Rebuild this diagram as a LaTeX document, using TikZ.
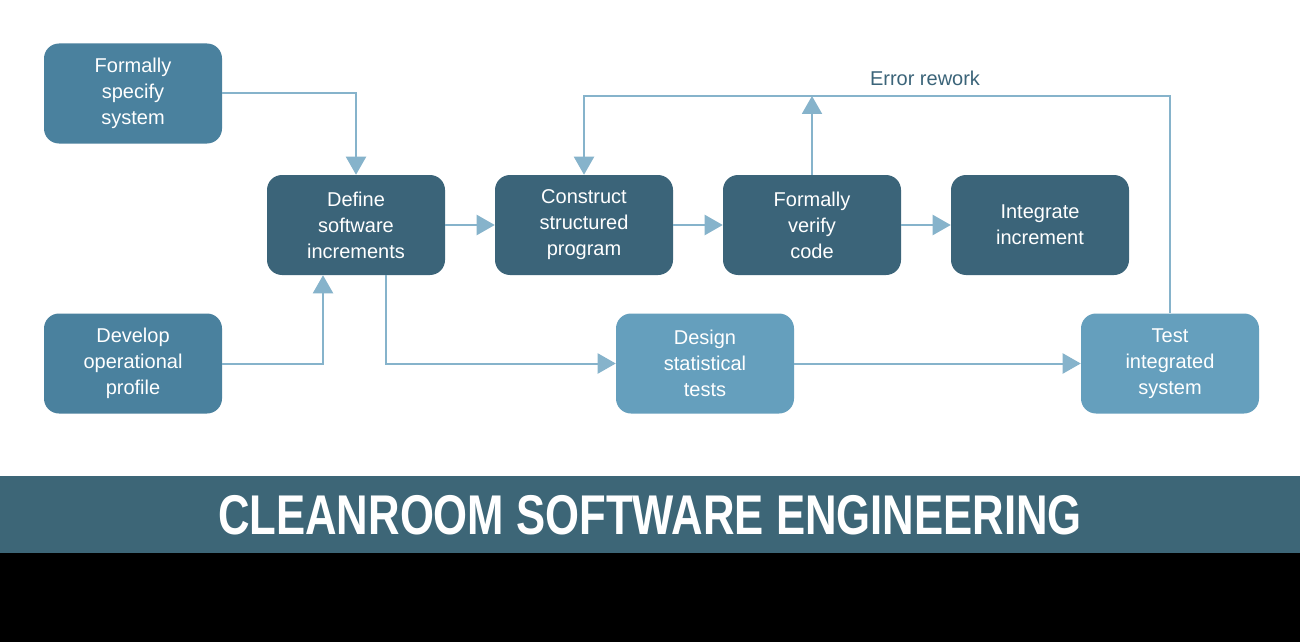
\documentclass[tikz,border=0pt]{standalone}
\usepackage{fontspec}
\setmainfont{Liberation Sans}
\newfontfamily\bannerfont[FakeStretch=0.78]{Liberation Sans}
\usetikzlibrary{arrows.meta,calc}

\definecolor{boxdark}{RGB}{59,100,121}
\definecolor{boxmid}{RGB}{74,129,158}
\definecolor{boxlight}{RGB}{101,159,189}
\definecolor{flowc}{RGB}{134,179,203}
\definecolor{bannerc}{RGB}{61,102,119}

\begin{document}
\begin{tikzpicture}[x=0.75pt,y=0.75pt,yscale=-1,xscale=1,
    stepbox/.style={rounded corners=11.25pt, minimum width=133.5pt, minimum height=75pt,
        inner sep=0pt, align=center, text=white,
        font=\fontsize{15pt}{19.5pt}\selectfont},
    flow/.style={draw=flowc, line width=1.5pt, -{Triangle[length=13.5pt,width=15pt]}}]
    \useasboundingbox (0,0) rectangle (1300,642);
    \fill[white] (0,0) rectangle (1300,642);

    %Banner at the bottom
    \fill[bannerc] (0,476) rectangle (1300,553);
    \fill[black] (0,553) rectangle (1300,642);
    \node (title) at (650,515) [text=white, inner sep=0pt]
        {\bannerfont\bfseries\fontsize{42pt}{42pt}\selectfont CLEANROOM SOFTWARE ENGINEERING};

    %Boxes
    \node (spec) at (133,93.5) [stepbox, fill=boxmid] {Formally\\specify\\system};
    \node (develop) at (133,363.5) [stepbox, fill=boxmid] {Develop\\operational\\profile};
    \node (define) at (356,225) [stepbox, fill=boxdark] {Define\\software\\increments};
    \node (construct) at (584,225) [stepbox, fill=boxdark] {Construct\\structured\\program};
    \node (verify) at (812,225) [stepbox, fill=boxdark] {Formally\\verify\\code};
    \node (integrate) at (1040,225) [stepbox, fill=boxdark] {Integrate\\increment};
    \node (design) at (705,363.5) [stepbox, fill=boxlight] {Design\\statistical\\tests};
    \node (test) at (1170,363.5) [stepbox, fill=boxlight] {Test\\integrated\\system};

    %Connectors
    \coordinate (top) at (0,96);
    \draw[flow] (spec.east) -| (define.north);
    \draw[flow] (develop.east) -| ($(define.south)+(-33,0)$);
    \draw[flow] (define) -- (construct);
    \draw[flow] (construct) -- (verify);
    \draw[flow] (verify) -- (integrate);
    \draw[flow] ($(define.south)+(30,0)$) |- (design.west);
    \draw[flow] (design) -- (test);
    \draw[flow] (test.north) -- (test.north |- top) -| (construct.north);
    \draw[flow] (verify.north) -- (verify.north |- top);

    % Text Node
    \node (rework) at (925,78) [text=boxdark, font=\fontsize{15pt}{18pt}\selectfont] {Error rework};
\end{tikzpicture}
\end{document}
